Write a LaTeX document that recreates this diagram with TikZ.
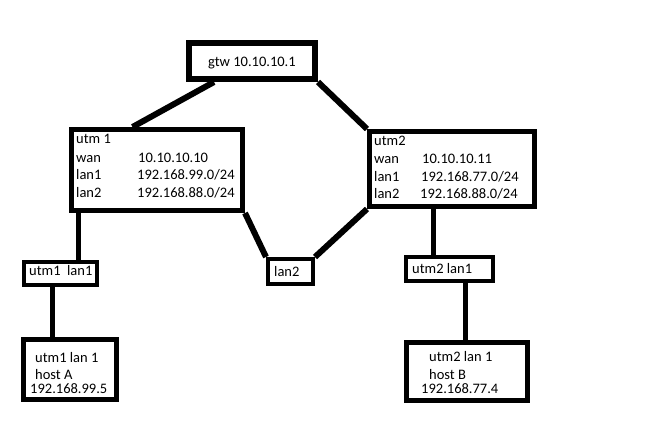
\documentclass[tikz,border=0pt]{standalone}
\usepackage{fontspec}
\setmainfont{Carlito}
\usetikzlibrary{calc}
\begin{document}
\begin{tikzpicture}[x=1pt,y=-1pt,
  box/.style={draw=black,rectangle,inner sep=0pt,line width=#1},
  box/.default=5pt,
  wire/.style={draw=black,line width=6pt},
  vwire/.style={draw=black,line width=5pt},
  txt/.style={anchor=base west,inner sep=0pt,font=\fontsize{14.5}{17}\selectfont}]
\useasboundingbox[fill=white] (0,0) rectangle (655,426);
% boxes
\node[box=6pt,minimum width=126pt,minimum height=36pt] (gtw) at (252,61) {};
\node[box,minimum width=171pt,minimum height=81pt] (utm1) at (157,170) {};
\node[box,minimum width=165pt,minimum height=75pt] (utm2) at (452,169) {};
\node[box=4pt,minimum width=73pt,minimum height=23pt] (u1l1) at (60.5,273.5) {};
\node[box,minimum width=93pt,minimum height=60pt] (hostA) at (70,369.5) {};
\node[box=4pt,minimum width=45pt,minimum height=25pt] (lan2) at (290.5,271.5) {};
\node[box=4pt,minimum width=87pt,minimum height=24pt] (u2l1) at (449.5,269) {};
\node[box,minimum width=121pt,minimum height=58pt] (hostB) at (467,371.5) {};
% texts
\node[txt] (tg) at (208,66) {gtw 10.10.10.1};
\node[txt] (t1a) at (76,143) {utm 1};
\node[txt] (t1b) at (76,162) {wan};
\node[txt] (t1c) at (76,179.5) {lan1};
\node[txt] (t1d) at (76,197) {lan2};
\node[txt] (t1e) at (138,162) {10.10.10.10};
\node[txt] (t1f) at (137,179.5) {192.168.99.0/24};
\node[txt] (t1g) at (137,197) {192.168.88.0/24};
\node[txt] (t2a) at (374,145) {utm2};
\node[txt] (t2b) at (374,163) {wan};
\node[txt] (t2c) at (374,181) {lan1};
\node[txt] (t2d) at (374,198.5) {lan2};
\node[txt] (t2e) at (422,163) {10.10.10.11};
\node[txt] (t2f) at (421,181) {192.168.77.0/24};
\node[txt] (t2g) at (420,198.5) {192.168.88.0/24};
\node[txt] (tl1) at (29,275) {utm1\ \ lan1};
\node[txt] (tl2) at (274,276) {lan2};
\node[txt] (tl3) at (412,273) {utm2 lan1};
\node[txt] (tha) at (35,362) {utm1 lan 1};
\node[txt] (thb) at (35,379) {host A};
\node[txt] (thc) at (30,393) {192.168.99.5};
\node[txt] (tbb) at (429,361) {utm2 lan 1};
\node[txt] (tbc) at (429,379) {host B};
\node[txt] (tbd) at (421,393) {192.168.77.4};
% connectors
\draw[wire] ($(gtw.south west)+(28,0)$) -- ($(utm1.north west)+(63.5,0)$);
\draw[wire] (gtw.south east) -- (utm2.north west);
\draw[wire] (utm1.south east) -- (lan2.north west);
\draw[wire] (lan2.north east) -- (utm2.south west);
\coordinate (p1) at ($(utm1.south west)+(9.5,0)$);
\draw[vwire] (p1) -- (p1 |- u1l1.north);
\coordinate (p2) at ($(u1l1.south west)+(30,0)$);
\draw[vwire] (p2) -- (p2 |- hostA.north);
\coordinate (p3) at ($(utm2.south west)+(66.5,0)$);
\draw[vwire] (p3) -- (p3 |- u2l1.north);
\coordinate (p4) at ($(u2l1.south west)+(61,0)$);
\draw[vwire] (p4) -- (p4 |- hostB.north);
\end{tikzpicture}
\end{document}
